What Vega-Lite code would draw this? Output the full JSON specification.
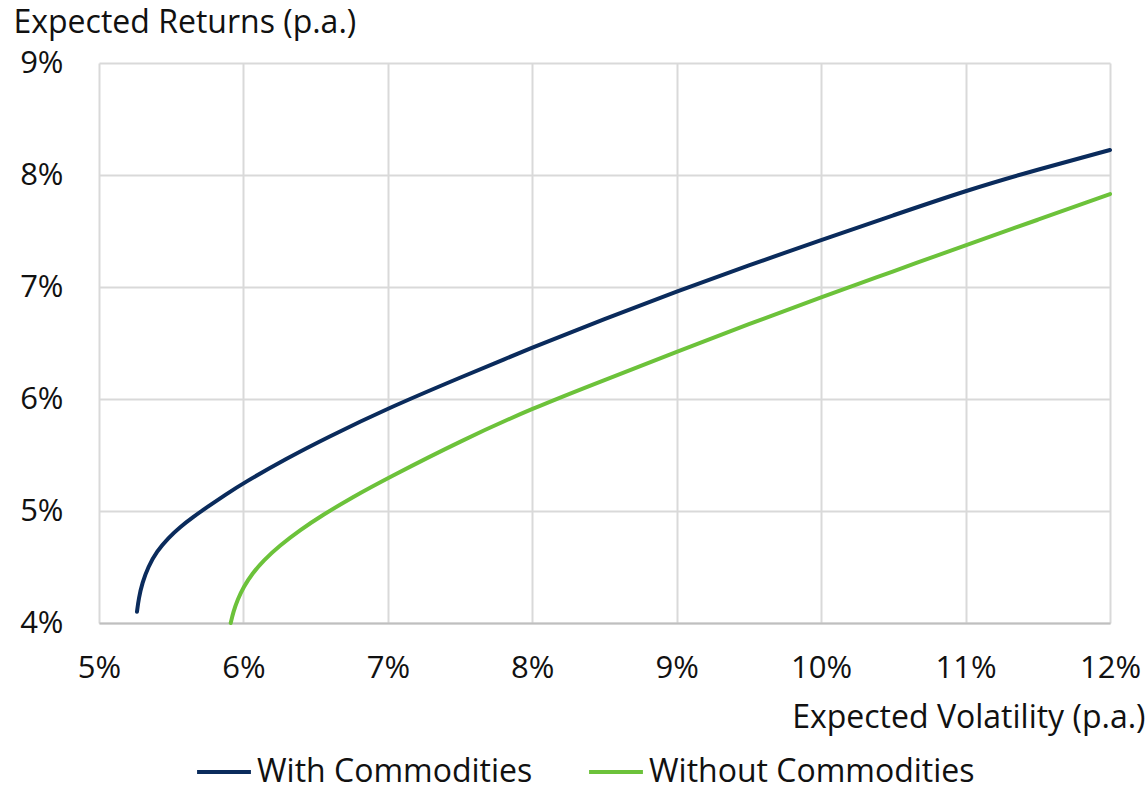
{
  "$schema": "https://vega.github.io/schema/vega-lite/v6.json",
  "autosize": "none",
  "width": 1011,
  "height": 560,
  "padding": {"left": 99, "top": 63, "right": 38, "bottom": 165},
  "background": "white",
  "config": {
    "font": "Open Sans",
    "view": {"stroke": null}
  },
  "data": {
    "values": [
      {"series": "With Commodities", "vol": 5.263, "ret": 4.10},
      {"series": "With Commodities", "vol": 5.275, "ret": 4.22},
      {"series": "With Commodities", "vol": 5.30, "ret": 4.36},
      {"series": "With Commodities", "vol": 5.34, "ret": 4.50},
      {"series": "With Commodities", "vol": 5.40, "ret": 4.64},
      {"series": "With Commodities", "vol": 5.48, "ret": 4.76},
      {"series": "With Commodities", "vol": 5.561, "ret": 4.857},
      {"series": "With Commodities", "vol": 5.65, "ret": 4.945},
      {"series": "With Commodities", "vol": 5.75, "ret": 5.035},
      {"series": "With Commodities", "vol": 5.875, "ret": 5.145},
      {"series": "With Commodities", "vol": 6.0, "ret": 5.25},
      {"series": "With Commodities", "vol": 6.3, "ret": 5.47},
      {"series": "With Commodities", "vol": 6.577, "ret": 5.655},
      {"series": "With Commodities", "vol": 7.0, "ret": 5.917},
      {"series": "With Commodities", "vol": 7.48, "ret": 6.18},
      {"series": "With Commodities", "vol": 8.0, "ret": 6.46},
      {"series": "With Commodities", "vol": 8.5, "ret": 6.715},
      {"series": "With Commodities", "vol": 9.0, "ret": 6.96},
      {"series": "With Commodities", "vol": 9.5, "ret": 7.195},
      {"series": "With Commodities", "vol": 10.0, "ret": 7.42},
      {"series": "With Commodities", "vol": 10.5, "ret": 7.64},
      {"series": "With Commodities", "vol": 11.0, "ret": 7.86},
      {"series": "With Commodities", "vol": 11.5, "ret": 8.05},
      {"series": "With Commodities", "vol": 12.0, "ret": 8.223},
      {"series": "Without Commodities", "vol": 5.912, "ret": 4.00},
      {"series": "Without Commodities", "vol": 5.93, "ret": 4.10},
      {"series": "Without Commodities", "vol": 5.96, "ret": 4.21},
      {"series": "Without Commodities", "vol": 6.0, "ret": 4.32},
      {"series": "Without Commodities", "vol": 6.06, "ret": 4.44},
      {"series": "Without Commodities", "vol": 6.14, "ret": 4.56},
      {"series": "Without Commodities", "vol": 6.25, "ret": 4.69},
      {"series": "Without Commodities", "vol": 6.392, "ret": 4.83},
      {"series": "Without Commodities", "vol": 6.55, "ret": 4.965},
      {"series": "Without Commodities", "vol": 6.75, "ret": 5.12},
      {"series": "Without Commodities", "vol": 7.0, "ret": 5.295},
      {"series": "Without Commodities", "vol": 7.51, "ret": 5.63},
      {"series": "Without Commodities", "vol": 8.0, "ret": 5.917},
      {"series": "Without Commodities", "vol": 8.5, "ret": 6.17},
      {"series": "Without Commodities", "vol": 9.0, "ret": 6.42},
      {"series": "Without Commodities", "vol": 9.5, "ret": 6.67},
      {"series": "Without Commodities", "vol": 10.0, "ret": 6.91},
      {"series": "Without Commodities", "vol": 10.5, "ret": 7.14},
      {"series": "Without Commodities", "vol": 11.0, "ret": 7.373},
      {"series": "Without Commodities", "vol": 11.5, "ret": 7.60},
      {"series": "Without Commodities", "vol": 12.0, "ret": 7.83}
    ]
  },
  "mark": {"type": "line", "strokeWidth": 4, "interpolate": "basis", "strokeCap": "round"},
  "encoding": {
    "x": {
      "field": "vol",
      "type": "quantitative",
      "scale": {"domain": [5, 12], "nice": false, "zero": false},
      "axis": {
        "values": [5, 6, 7, 8, 9, 10, 11, 12],
        "labelExpr": "datum.value + '%'",
        "labelFontSize": 31,
        "labelColor": "#111111",
        "labelPadding": 30,
        "labelFlush": false,
        "labelOverlap": false,
        "labelBound": false,
        "ticks": false,
        "domainColor": "#bfbfbf",
        "domainWidth": 2,
        "gridColor": "#d9d9d9",
        "gridWidth": 2,
        "title": "Expected Volatility (p.a.)",
        "titleFont": "Open Sans",
        "titleFontWeight": "normal",
        "titleFontSize": 32,
        "titleColor": "#111111",
        "titleAnchor": "end",
        "titleAlign": "right",
        "titleBaseline": "middle",
        "titleX": 1046,
        "titleY": 94
      }
    },
    "y": {
      "field": "ret",
      "type": "quantitative",
      "scale": {"domain": [4, 9], "nice": false, "zero": false},
      "axis": {
        "values": [4, 5, 6, 7, 8, 9],
        "labelExpr": "datum.value + '%'",
        "labelFontSize": 31,
        "labelColor": "#111111",
        "labelPadding": 36,
        "labelFlush": false,
        "labelOverlap": false,
        "ticks": false,
        "domain": false,
        "gridColor": "#d9d9d9",
        "gridWidth": 2,
        "title": "Expected Returns (p.a.)",
        "titleFont": "Open Sans",
        "titleFontWeight": "normal",
        "titleFontSize": 32,
        "titleColor": "#111111",
        "titleAngle": 0,
        "titleAnchor": "start",
        "titleAlign": "left",
        "titleBaseline": "middle",
        "titleX": -86,
        "titleY": -41
      }
    },
    "color": {
      "field": "series",
      "type": "nominal",
      "scale": {
        "domain": ["With Commodities", "Without Commodities"],
        "range": ["#0a2b5c", "#6cc23a"]
      },
      "legend": {
        "title": null,
        "orient": "none",
        "direction": "horizontal",
        "legendX": 96,
        "legendY": 680,
        "symbolType": "stroke",
        "symbolSize": 2900,
        "symbolStrokeWidth": 4,
        "labelFontSize": 32,
        "labelColor": "#111111",
        "labelOffset": 4,
        "labelLimit": 0,
        "columnPadding": 48
      }
    }
  }
}
